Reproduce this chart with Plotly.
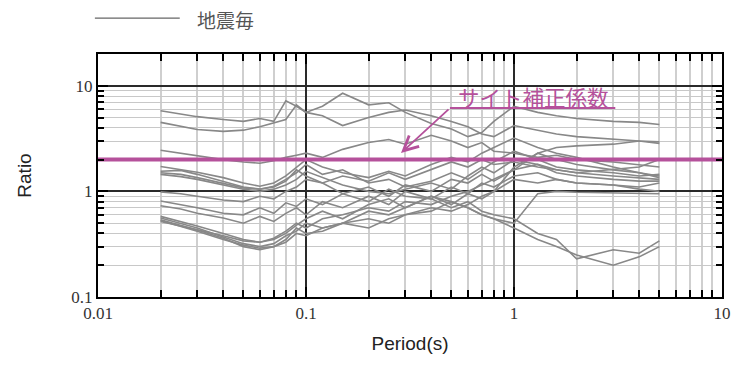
import plotly.graph_objects as go

# 周期 (s)
periods = [0.02, 0.025, 0.03, 0.04, 0.05, 0.06, 0.07, 0.08, 0.09, 0.1,
           0.12, 0.15, 0.2, 0.25, 0.3, 0.4, 0.5, 0.6, 0.7, 0.8,
           1.0, 1.3, 1.6, 2.0, 3.0, 4.0, 5.0]

# 地震毎のスペクトル比
eq01 = [5.8, 5.4, 5.1, 4.8, 4.6, 4.9, 4.6, 7.2, 6.4, 5.6, 6.4, 8.5, 6.6, 6.9, 5.6, 4.4, 3.9, 3.3, 3.6, 4.6, 6.4, 5.6, 5.2, 4.9, 4.6, 4.5, 4.3]
eq02 = [4.5, 4.1, 3.85, 3.7, 3.8, 4.1, 4.5, 4.8, 6.6, 5.6, 5.2, 4.2, 5.0, 5.6, 5.9, 5.2, 4.6, 4.1, 3.5, 3.3, 4.2, 3.8, 3.5, 3.3, 3.1, 3.0, 2.95]
eq03 = [2.45, 2.3, 2.15, 2.0, 1.9, 1.85, 1.95, 2.1, 2.2, 2.3, 2.1, 2.5, 2.9, 3.1, 2.8, 3.4, 3.0, 2.6, 2.9, 2.4, 2.3, 2.1, 2.2, 2.0, 1.9, 1.8, 1.7]
eq04 = [1.72, 1.62, 1.52, 1.35, 1.2, 1.12, 1.2, 1.4, 1.7, 2.0, 1.7, 1.5, 1.35, 1.55, 1.4, 1.8, 2.1, 1.9, 2.3, 2.6, 3.2, 2.6, 2.3, 2.1, 1.7, 1.5, 1.35]
eq05 = [1.55, 1.58, 1.45, 1.25, 1.1, 1.05, 1.12, 1.3, 1.5, 1.8, 1.45, 1.6, 1.2, 1.3, 1.1, 1.25, 1.5, 1.3, 1.6, 1.9, 2.4, 2.0, 1.7, 1.6, 1.5, 1.4, 1.45]
eq06 = [1.45, 1.38, 1.3, 1.15, 1.05, 1.0, 1.05, 1.15, 1.3, 1.55, 1.35, 1.15, 1.0, 0.95, 1.05, 1.2, 1.05, 1.4, 1.7, 1.5, 2.0, 1.8, 1.5, 1.4, 1.3, 1.25, 1.25]
eq07 = [0.99, 0.95, 0.9, 0.83, 0.8, 0.9, 0.85, 1.0, 1.1, 1.3, 1.2, 1.4, 1.25, 1.5, 1.3, 1.6, 1.9, 1.7, 2.0, 1.8, 1.9, 1.7, 1.6, 1.5, 1.4, 1.35, 1.3]
eq08 = [0.81, 0.75, 0.7, 0.62, 0.6, 0.7, 0.62, 0.78, 0.72, 0.85, 0.75, 0.95, 0.8, 1.05, 0.9, 0.85, 0.7, 0.8, 0.65, 0.6, 0.55, 0.4, 0.35, 0.23, 0.28, 0.26, 0.34]
eq09 = [0.73, 0.68, 0.62, 0.56, 0.5, 0.58, 0.52, 0.62, 0.7, 0.6, 0.8, 0.7, 0.9, 0.75, 1.0, 0.85, 1.1, 0.95, 1.2, 1.1, 1.4, 1.5, 1.3, 1.2, 1.15, 1.1, 1.2]
eq10 = [0.58, 0.52, 0.47, 0.4, 0.35, 0.33, 0.36, 0.42, 0.5, 0.45, 0.55, 0.6, 0.7, 0.65, 0.8, 0.75, 0.9, 1.0, 1.15, 1.3, 1.6, 1.8, 1.6, 1.5, 1.6, 1.7, 2.0]
eq11 = [0.56, 0.5, 0.45, 0.37, 0.32, 0.3, 0.32, 0.38, 0.42, 0.5, 0.45, 0.5, 0.55, 0.5, 0.6, 0.7, 0.65, 0.75, 0.9, 1.0, 1.7, 2.3, 2.6, 2.7, 2.8, 3.0, 2.85]
eq12 = [0.54, 0.48, 0.43, 0.36, 0.3, 0.28, 0.3, 0.33, 0.4, 0.38, 0.45, 0.5, 0.65, 0.6, 0.7, 0.9, 0.8, 0.7, 0.6, 0.55, 0.45, 0.35, 0.3, 0.25, 0.2, 0.24, 0.3]
eq13 = [0.53, 0.47, 0.42, 0.35, 0.31, 0.29, 0.3, 0.35, 0.45, 0.4, 0.42, 0.5, 0.45, 0.55, 0.6, 0.65, 0.8, 0.7, 0.6, 0.55, 0.5, 0.95, 1.0, 0.98, 0.97, 0.95, 0.95]
eq14 = [1.5, 1.45, 1.35, 1.2, 1.08, 1.05, 1.1, 1.25, 1.6, 1.4, 1.2, 0.95, 1.1, 0.9, 1.15, 1.0, 1.3, 1.2, 1.45, 1.25, 1.6, 2.3, 2.0, 1.8, 1.6, 1.5, 1.4]
eq15 = [0.52, 0.47, 0.44, 0.38, 0.34, 0.33, 0.35, 0.4, 0.48, 0.55, 0.65, 0.55, 0.75, 0.85, 0.7, 0.9, 0.75, 0.95, 0.85, 1.0, 1.3, 1.2, 1.3, 1.2, 1.15, 1.05, 1.0]

records = [eq01, eq02, eq03, eq04, eq05, eq06, eq07, eq08,
           eq09, eq10, eq11, eq12, eq13, eq14, eq15]

site_factor = 2.0

x_ticks = [0.01, 0.1, 1, 10]
x_ticktext = ["0.01", "0.1", "1", "10"]
y_ticks = [0.1, 1, 10]
y_ticktext = ["0.1", "1", "10"]
x_minor = [m * d for d in [0.01, 0.1, 1] for m in range(2, 10)]
y_minor = [m * d for d in [0.1, 1] for m in range(2, 10)]

MAGENTA = "#B5519B"
GREY = "#888888"

fig = go.Figure()

for vals in records:
    fig.add_trace(go.Scatter(
        x=periods, y=vals, mode="lines",
        line=dict(color=GREY, width=1.6),
        showlegend=False, hoverinfo="skip",
    ))

# サイト補正係数
fig.add_trace(go.Scatter(
    x=[0.01, 10], y=[site_factor, site_factor], mode="lines",
    line=dict(color=MAGENTA, width=4),
    showlegend=False,
))

axis_common = dict(
    type="log",
    automargin=False,
    showline=True, linecolor="black", linewidth=2, mirror="ticks",
    ticks="inside", ticklen=10, tickwidth=2, tickcolor="black",
    showgrid=True, gridcolor="#2a2a2a", gridwidth=1.5,
    zeroline=False,
    tickfont=dict(family="Liberation Serif", size=17, color="#333333"),
)

fig.update_xaxes(
    **axis_common,
    range=[-2, 1],
    tickmode="array", tickvals=x_ticks, ticktext=x_ticktext,
    minor=dict(tickmode="array", tickvals=x_minor, ticks="inside",
               ticklen=7, tickwidth=1.5, tickcolor="black",
               showgrid=True, gridcolor="#cfcfcf", gridwidth=1.5),
    title=dict(text="Period(s)", font=dict(family="Liberation Sans", size=19, color="#222"),
               standoff=14),
)
fig.update_yaxes(
    **axis_common,
    range=[-1, 1.301],
    tickmode="array", tickvals=y_ticks, ticktext=y_ticktext,
    minor=dict(tickmode="array", tickvals=y_minor, ticks="inside",
               ticklen=6, tickwidth=1.5, tickcolor="black",
               showgrid=True, gridcolor="#c8c8c8", gridwidth=1),
    title=dict(text="Ratio", font=dict(family="Liberation Sans", size=19, color="#222"),
               standoff=35),
)

# 凡例 (手描き)
fig.add_shape(type="line", xref="paper", yref="paper",
              x0=-0.005, x1=0.131, y0=1.148, y1=1.148,
              line=dict(color="#666666", width=1.2))
fig.add_annotation(text="地震毎", xref="paper", yref="paper",
                   x=0.155, y=1.144, xanchor="left", yanchor="middle",
                   showarrow=False,
                   font=dict(family="Noto Sans CJK JP", size=19, color="#555555"))

# 注記
fig.add_annotation(text="サイト補正係数", xref="paper", yref="paper",
                   x=0.698, y=0.826, xanchor="center", yanchor="middle",
                   showarrow=False,
                   font=dict(family="Noto Sans CJK JP", size=21.5, color=MAGENTA))
fig.add_shape(type="line", xref="paper", yref="paper",
              x0=0.564, x1=0.829, y0=0.778, y1=0.778,
              line=dict(color=MAGENTA, width=2))
fig.add_annotation(text="", xref="paper", yref="paper",
                   x=0.4856, y=0.5926, ax=49, ay=-45,
                   showarrow=True, arrowhead=5, arrowsize=1.6,
                   arrowwidth=1.8, arrowcolor=MAGENTA)

fig.update_layout(
    width=735, height=366,
    margin=dict(l=98, r=13, t=54, b=69),
    paper_bgcolor="white", plot_bgcolor="white",
    showlegend=False,
)

# ページ本体の既定余白を消す
fig.write_html("out.html", config={"displayModeBar": False},
               post_script="document.body.style.margin='0px';")
